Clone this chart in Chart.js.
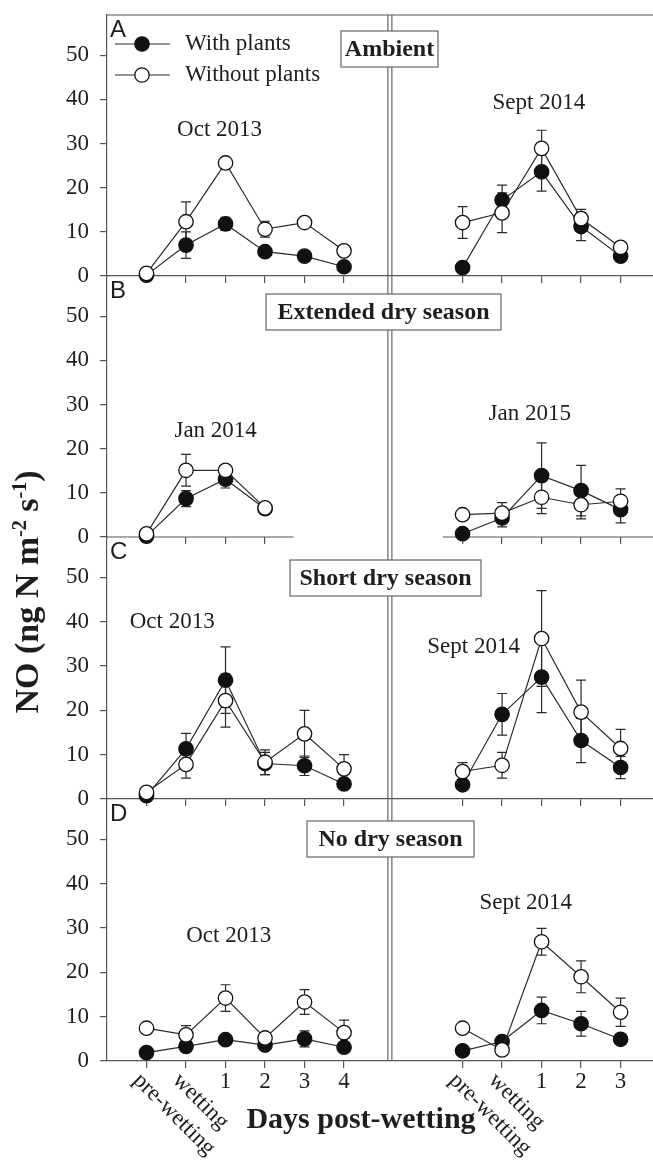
<!DOCTYPE html>
<html>
<head>
<meta charset="utf-8">
<script src="https://cdn.jsdelivr.net/npm/chart.js@4.4.1/dist/chart.umd.min.js"></script>
<style>
  html, body { margin: 0; padding: 0; background: #fff; }
  #wrap { position: relative; width: 653px; height: 1161px; overflow: hidden; background: #fff; }
  #wrap canvas { position: absolute; left: 0; top: 0; }
</style>
</head>
<body>
<div id="wrap">
  <canvas id="pA" width="653" height="1161"></canvas>
  <canvas id="pB" width="653" height="1161"></canvas>
  <canvas id="pC" width="653" height="1161"></canvas>
  <canvas id="pD" width="653" height="1161"></canvas>
</div>
<script>
// ---- categories / tick labels ----
const leftDays  = ['pre-wetting', 'wetting', '1', '2', '3', '4'];
const rightDays = ['pre-wetting', 'wetting', '1', '2', '3'];
const yTicks    = [0, 10, 20, 30, 40, 50];

// ---- NO flux (ng N m-2 s-1), means and standard errors ----
// A: Ambient (Oct 2013 | Sept 2014)
const ambientWithL       = [0.2, 7.0, 11.8, 5.5, 4.5, 2.1];
const ambientWithLse     = [0.3, 3.0, 1.5, 0.8, 0.8, 0.6];
const ambientWithoutL    = [0.6, 12.3, 25.6, 10.6, 12.1, 5.7];
const ambientWithoutLse  = [0.4, 4.5, 1.2, 1.8, 1.0, 0.8];
const ambientWithR       = [1.9, 17.2, 23.6, 11.2, 4.5];
const ambientWithRse     = [0.5, 3.4, 4.4, 3.2, 0.9];
const ambientWithoutR    = [12.1, 14.3, 28.9, 13.0, 6.5];
const ambientWithoutRse  = [3.6, 4.5, 4.1, 2.1, 0.9];

// B: Extended dry season (Jan 2014 | Jan 2015)
const extendedWithL      = [0.2, 8.7, 13.1, 6.4];
const extendedWithLse    = [0.2, 1.8, 2.0, 0.6];
const extendedWithoutL   = [0.7, 15.1, 15.1, 6.6];
const extendedWithoutLse = [0.3, 3.6, 1.0, 0.6];
const extendedWithR      = [0.75, 4.3, 13.9, 10.5, 6.2];
const extendedWithRse    = [0.4, 2.0, 7.4, 5.7, 3.0];
const extendedWithoutR   = [5.05, 5.4, 9.0, 7.3, 8.1];
const extendedWithoutRse = [0.8, 2.4, 3.7, 3.2, 2.8];

// C: Short dry season (Oct 2013 | Sept 2014)
const shortWithL         = [0.75, 11.3, 26.8, 8.0, 7.5, 3.4];
const shortWithLse       = [0.3, 3.5, 7.5, 2.5, 2.2, 0.8];
const shortWithoutL      = [1.5, 7.8, 22.2, 8.3, 14.7, 6.8];
const shortWithoutLse    = [0.4, 3.1, 6.0, 2.8, 5.3, 3.2];
const shortWithR         = [3.2, 19.1, 27.5, 13.2, 7.1];
const shortWithRse       = [0.8, 4.7, 8.0, 5.0, 2.5];
const shortWithoutR      = [6.2, 7.6, 36.2, 19.6, 11.4];
const shortWithoutRse    = [2.0, 2.9, 10.8, 7.2, 4.3];

// D: No dry season (Oct 2013 | Sept 2014)
const noDryWithL         = [1.9, 3.3, 4.8, 3.6, 5.0, 3.1];
const noDryWithLse       = [0.4, 0.8, 0.8, 0.6, 1.8, 0.6];
const noDryWithoutL      = [7.4, 5.9, 14.2, 5.2, 13.3, 6.4];
const noDryWithoutLse    = [0.6, 2.1, 3.0, 0.7, 2.8, 2.8];
const noDryWithR         = [2.3, 4.4, 11.4, 8.4, 4.9];
const noDryWithRse       = [0.4, 0.8, 3.0, 2.8, 0.9];
const noDryWithoutR      = [7.4, 2.5, 26.9, 19.0, 11.0];
const noDryWithoutRse    = [0.6, 0.6, 3.0, 3.6, 3.2];

// ---- layout ----
const W = 653, H = 1161;
const RIGHT_START = 8;         // x slot of the first right-hand category
const DIVIDER = 6.16;          // x value of the double divider line
const X_MIN = -1, X_MAX = 12.82;
const Y_MAX = 59.1;
const SERIF = '"Liberation Serif", "Times New Roman", serif';
const SANS = '"Liberation Sans", Arial, sans-serif';
const INK = '#1e1e1e';
const AXIS = '#555';

const panels = [
  { id: 'pA', letter: 'A', top: 15, bottom: 276, title: 'Ambient',
    box: { cx: 389.5, dy: 16, w: 97, h: 36 },
    notes: [{ text: 'Oct 2013', x: 1.85, y: 33.0 }, { text: 'Sept 2014', x: 9.93, y: 39.1 }],
    series: [ambientWithL, ambientWithLse, ambientWithoutL, ambientWithoutLse,
             ambientWithR, ambientWithRse, ambientWithoutR, ambientWithoutRse],
    legend: true, frameTop: true },
  { id: 'pB', letter: 'B', top: 276, bottom: 537, title: 'Extended dry season',
    box: { cx: 383.5, dy: 18, w: 235, h: 36 },
    notes: [{ text: 'Jan 2014', x: 1.75, y: 23.9 }, { text: 'Jan 2015', x: 9.7, y: 27.9 }],
    series: [extendedWithL, extendedWithLse, extendedWithoutL, extendedWithoutLse,
             extendedWithR, extendedWithRse, extendedWithoutR, extendedWithoutRse],
    axisSegments: [[X_MIN, 3.72], [7.5, X_MAX]] },
  { id: 'pC', letter: 'C', top: 537, bottom: 799, title: 'Short dry season',
    box: { cx: 385.5, dy: 23, w: 191, h: 36 },
    notes: [{ text: 'Oct 2013', x: 0.65, y: 40.0 }, { text: 'Sept 2014', x: 8.28, y: 34.3 }],
    series: [shortWithL, shortWithLse, shortWithoutL, shortWithoutLse,
             shortWithR, shortWithRse, shortWithoutR, shortWithoutRse] },
  { id: 'pD', letter: 'D', top: 799, bottom: 1061, title: 'No dry season',
    box: { cx: 390.5, dy: 22, w: 167, h: 36 },
    notes: [{ text: 'Oct 2013', x: 2.08, y: 28.1 }, { text: 'Sept 2014', x: 9.6, y: 35.6 }],
    series: [noDryWithL, noDryWithLse, noDryWithoutL, noDryWithoutLse,
             noDryWithR, noDryWithRse, noDryWithoutR, noDryWithoutRse],
    bottomAxis: true }
];

// x slots of the category ticks (left campaign from 0, right campaign from RIGHT_START)
function tickSlots(nLeft, nRight) {
  const out = [];
  for (let i = 0; i < nLeft; i++) out.push(i);
  for (let i = 0; i < nRight; i++) out.push(i + RIGHT_START);
  return out;
}
const xTickValues = tickSlots(leftDays.length, rightDays.length);
const xTickLabels = leftDays.concat(rightDays);

function makeSet(label, values, errs, offset, open) {
  return {
    label,
    data: values.map((v, i) => ({ x: i + offset, y: v })),
    errors: errs,
    borderColor: '#2a2a2a',
    borderWidth: 1.2,
    pointRadius: 7.2,
    pointHoverRadius: 7.2,
    pointBorderWidth: 1.3,
    pointBackgroundColor: open ? '#ffffff' : '#111111',
    pointBorderColor: '#111111',
    tension: 0,
    fill: false,
    clip: false,
    order: open ? 0 : 1
  };
}

function drawMarker(ctx, x, y, open) {
  ctx.beginPath();
  ctx.arc(x, y, 7.2, 0, Math.PI * 2);
  ctx.fillStyle = open ? '#fff' : '#111';
  ctx.fill();
  ctx.lineWidth = 1.3;
  ctx.strokeStyle = '#111';
  ctx.stroke();
}

const decor = {
  id: 'decor',
  beforeDatasetsDraw(chart) {
    const ctx = chart.ctx, area = chart.chartArea;
    const xs = chart.scales.x, ys = chart.scales.y;
    const cfg = chart.options.plugins.decor;
    ctx.save();
    // double divider line
    const dx = xs.getPixelForValue(DIVIDER);
    ctx.strokeStyle = '#666';
    ctx.lineWidth = 1.2;
    [-2, 2].forEach(o => {
      ctx.beginPath();
      ctx.moveTo(dx + o, area.top);
      ctx.lineTo(dx + o, area.bottom);
      ctx.stroke();
    });
    // top frame of the first panel
    if (cfg.frameTop) {
      ctx.strokeStyle = AXIS;
      ctx.beginPath();
      ctx.moveTo(area.left, area.top);
      ctx.lineTo(area.right, area.top);
      ctx.stroke();
    }
    // broken x-axis baseline
    if (cfg.axisSegments) {
      ctx.strokeStyle = AXIS;
      ctx.lineWidth = 1.2;
      cfg.axisSegments.forEach(([a, b]) => {
        ctx.beginPath();
        ctx.moveTo(xs.getPixelForValue(a), area.bottom);
        ctx.lineTo(xs.getPixelForValue(b), area.bottom);
        ctx.stroke();
      });
    }
    // error bars (mean ± SE)
    ctx.strokeStyle = '#2a2a2a';
    ctx.lineWidth = 1.2;
    chart.data.datasets.forEach(ds => {
      ds.data.forEach((pt, i) => {
        const e = ds.errors[i];
        if (!e) return;
        const px = xs.getPixelForValue(pt.x);
        const y1 = ys.getPixelForValue(pt.y + e);
        const y2 = ys.getPixelForValue(Math.max(pt.y - e, 0));
        ctx.beginPath();
        ctx.moveTo(px, y1); ctx.lineTo(px, y2);
        ctx.moveTo(px - 5, y1); ctx.lineTo(px + 5, y1);
        ctx.moveTo(px - 5, y2); ctx.lineTo(px + 5, y2);
        ctx.stroke();
      });
    });
    ctx.restore();
  },
  afterDraw(chart) {
    const ctx = chart.ctx, area = chart.chartArea;
    const xs = chart.scales.x, ys = chart.scales.y;
    const cfg = chart.options.plugins.decor;
    ctx.save();
    ctx.fillStyle = INK;

    // panel letter
    ctx.font = '24px ' + SANS;
    ctx.textAlign = 'left';
    ctx.textBaseline = 'alphabetic';
    ctx.fillText(cfg.letter, area.left + 3, area.top + 22);

    // boxed treatment title
    const b = cfg.box;
    const bx = b.cx - b.w / 2, by = area.top + b.dy;
    ctx.fillStyle = '#fff';
    ctx.fillRect(bx, by, b.w, b.h);
    ctx.strokeStyle = '#666';
    ctx.lineWidth = 1.2;
    ctx.strokeRect(bx, by, b.w, b.h);
    ctx.fillStyle = INK;
    ctx.font = 'bold 24px ' + SERIF;
    ctx.textAlign = 'center';
    ctx.textBaseline = 'middle';
    ctx.fillText(cfg.title, b.cx, by + b.h / 2 + 1);

    // campaign labels
    ctx.font = '23px ' + SERIF;
    cfg.notes.forEach(n => {
      ctx.fillText(n.text, xs.getPixelForValue(n.x), ys.getPixelForValue(n.y));
    });

    // legend
    if (cfg.legend) {
      const rows = [['With plants', false, 44], ['Without plants', true, 75]];
      rows.forEach(([txt, open, y]) => {
        ctx.strokeStyle = '#2a2a2a';
        ctx.lineWidth = 1.2;
        ctx.beginPath();
        ctx.moveTo(area.left + 8, y);
        ctx.lineTo(area.left + 63, y);
        ctx.stroke();
        drawMarker(ctx, area.left + 35, y, open);
        ctx.fillStyle = INK;
        ctx.font = '23px ' + SERIF;
        ctx.textAlign = 'left';
        ctx.textBaseline = 'middle';
        ctx.fillText(txt, area.left + 78, y);
      });
    }

    // category labels, axis titles
    if (cfg.bottomAxis) {
      const axisY = area.bottom;
      ctx.fillStyle = INK;
      ctx.font = '23px ' + SERIF;
      xTickValues.forEach((v, i) => {
        const lab = xTickLabels[i];
        const px = xs.getPixelForValue(v);
        if (/^\d+$/.test(lab)) {
          ctx.textAlign = 'center';
          ctx.textBaseline = 'middle';
          ctx.fillText(lab, px, axisY + 21);
        } else {
          ctx.save();
          ctx.translate(px - 10, axisY + 16);
          ctx.rotate(Math.PI / 4);
          ctx.textAlign = 'left';
          ctx.textBaseline = 'middle';
          ctx.fillText(lab, 0, 0);
          ctx.restore();
        }
      });

      ctx.font = 'bold 30px ' + SERIF;
      ctx.textAlign = 'center';
      ctx.textBaseline = 'middle';
      ctx.fillText('Days post-wetting', 361, 1120);

      // y-axis title with superscripts
      const parts = [['NO (ng N m', false], ['-2', true], [' s', false], ['-1', true], [')', false]];
      const mainF = 'bold 34px ' + SERIF, supF = 'bold 20px ' + SERIF;
      let total = 0;
      parts.forEach(([t, sup]) => { ctx.font = sup ? supF : mainF; total += ctx.measureText(t).width; });
      ctx.save();
      ctx.translate(27, 592);
      ctx.rotate(-Math.PI / 2);
      ctx.textAlign = 'left';
      ctx.textBaseline = 'alphabetic';
      let cx = -total / 2;
      parts.forEach(([t, sup]) => {
        ctx.font = sup ? supF : mainF;
        ctx.fillText(t, cx, sup ? -1 : 11);
        cx += ctx.measureText(t).width;
      });
      ctx.restore();
    }
    ctx.restore();
  }
};

panels.forEach(p => {
  const [wL, wLse, woL, woLse, wR, wRse, woR, woRse] = p.series;
  const panelTicks = tickSlots(wL.length, wR.length);
  new Chart(document.getElementById(p.id), {
    type: 'line',
    data: {
      datasets: [
        makeSet('Without plants', woL, woLse, 0, true),
        makeSet('Without plants', woR, woRse, RIGHT_START, true),
        makeSet('With plants', wL, wLse, 0, false),
        makeSet('With plants', wR, wRse, RIGHT_START, false)
      ]
    },
    options: {
      responsive: false,
      animation: false,
      devicePixelRatio: 1,
      events: [],
      layout: { autoPadding: false, padding: { top: p.top, left: 0, right: 0, bottom: 0 } },
      plugins: {
        legend: { display: false },
        tooltip: { enabled: false },
        decor: {
          letter: p.letter, title: p.title, box: p.box, notes: p.notes,
          legend: !!p.legend, frameTop: !!p.frameTop,
          axisSegments: p.axisSegments || null, bottomAxis: !!p.bottomAxis
        }
      },
      scales: {
        x: {
          type: 'linear',
          min: X_MIN,
          max: X_MAX,
          afterBuildTicks: s => { s.ticks = panelTicks.map(v => ({ value: v })); },
          afterFit: s => { s.height = H - p.bottom; s.paddingLeft = 0; s.paddingRight = 0; },
          ticks: { display: false },
          grid: { display: true, drawOnChartArea: false, drawTicks: true, tickLength: 7, color: AXIS, lineWidth: 1.2 },
          border: { display: !p.axisSegments, color: AXIS, width: 1.2 }
        },
        y: {
          min: 0,
          max: Y_MAX,
          afterBuildTicks: s => { s.ticks = yTicks.map(v => ({ value: v })); },
          afterFit: s => { s.width = 107; s.paddingTop = 0; s.paddingBottom = 0; },
          ticks: { font: { family: SERIF, size: 23 }, color: INK, padding: 11 },
          grid: { display: true, drawOnChartArea: false, drawTicks: true, tickLength: 7, color: AXIS, lineWidth: 1.2 },
          border: { display: true, color: AXIS, width: 1.2 }
        }
      }
    },
    plugins: [decor]
  });
});
</script>
</body>
</html>
